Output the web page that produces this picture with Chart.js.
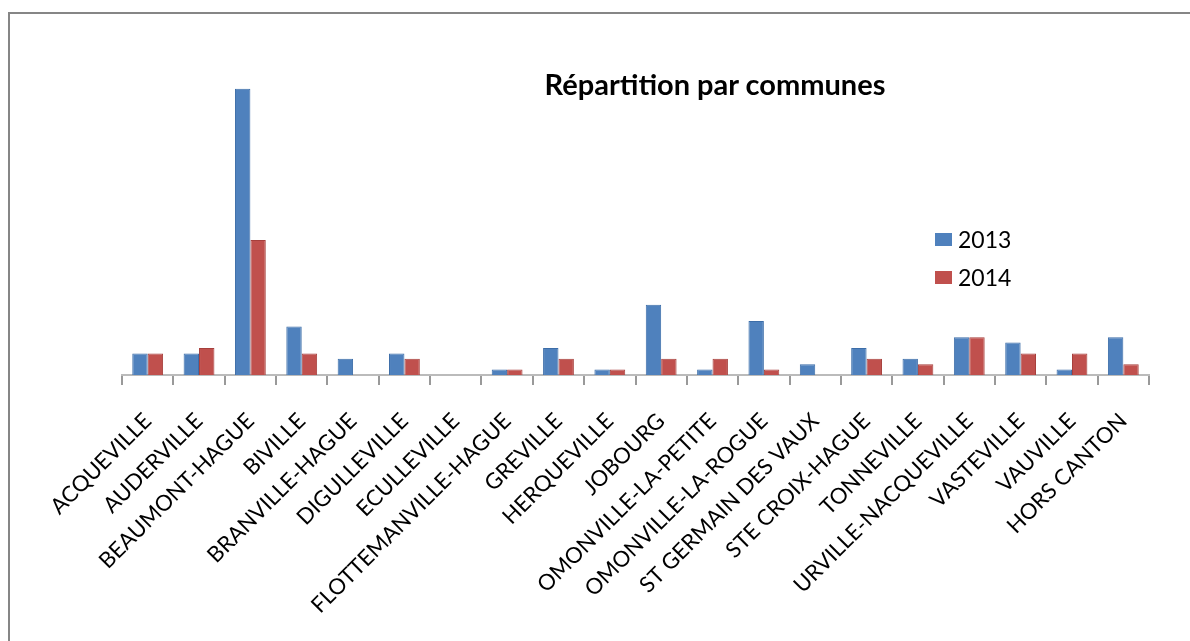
<!DOCTYPE html>
<html>
<head>
<meta charset="utf-8">
<script src="https://cdn.jsdelivr.net/npm/chart.js@4.4.1/dist/chart.umd.min.js"></script>
<style>
  html, body { margin: 0; padding: 0; background: #fff; }
  #frame { position: absolute; left: 8px; top: 12px; width: 1182px; height: 629px;
           border-top: 2px solid #868686; border-left: 2px solid #868686; box-sizing: border-box; }
  #wrap { position: absolute; left: 0; top: 0; width: 1190px; height: 641px; }
  #title { position: absolute; left: 465px; width: 500px; top: 66px; text-align: center;
           font-family: Lato, "Open Sans", sans-serif; font-weight: bold; font-size: 29px; color: #000; white-space: nowrap; }
  .leg { position: absolute; font-family: Lato, "Open Sans", sans-serif; font-size: 23px; color: #000; }
  .sw { display: inline-block; width: 17px; height: 13px; margin-right: 6px; vertical-align: 2px; }
</style>
</head>
<body>
<div id="frame"></div>
<div id="wrap"><canvas id="c" width="1190" height="641"></canvas></div>
<div id="title">Répartition par communes</div>
<div class="leg" id="leg1" style="left:935px; top:225px;"><span class="sw" style="background:#4F81BD"></span>2013</div>
<div class="leg" id="leg2" style="left:935px; top:263px;"><span class="sw" style="background:#C0504D"></span>2014</div>
<script>
const communes = ["ACQUEVILLE","AUDERVILLE","BEAUMONT-HAGUE","BIVILLE","BRANVILLE-HAGUE","DIGULLEVILLE","ECULLEVILLE","FLOTTEMANVILLE-HAGUE","GREVILLE","HERQUEVILLE","JOBOURG","OMONVILLE-LA-PETITE","OMONVILLE-LA-ROGUE","ST GERMAIN DES VAUX","STE CROIX-HAGUE","TONNEVILLE","URVILLE-NACQUEVILLE","VASTEVILLE","VAUVILLE","HORS CANTON"];
const values2013 = [4, 4, 53, 9, 3, 4, 0, 1, 5, 1, 13, 1, 10, 2, 5, 3, 7, 6, 1, 7];
const values2014 = [4, 5, 25, 4, 0, 3, 0, 1, 3, 1, 3, 3, 1, 0, 3, 2, 7, 4, 4, 2];
const seriesLabels = ["2013", "2014"];

new Chart(document.getElementById('c'), {
  type: 'bar',
  data: {
    labels: communes,
    datasets: [
      { label: seriesLabels[0], data: values2013, backgroundColor: '#4F81BD', borderColor: '#3C6DA8', borderWidth: 1, categoryPercentage: 0.6, barPercentage: 1.0 },
      { label: seriesLabels[1], data: values2014, backgroundColor: '#C0504D', borderColor: '#A63F3C', borderWidth: 1, categoryPercentage: 0.6, barPercentage: 1.0 }
    ]
  },
  options: {
    responsive: false,
    animation: false,
    layout: { padding: { left: 122, right: 41, top: 51, bottom: 0 } },
    plugins: { legend: { display: false }, title: { display: false }, tooltip: { enabled: false } },
    scales: {
      x: {
        offset: true,
        grid: { display: true, offset: true, drawOnChartArea: false, drawTicks: true, tickLength: 10, color: '#999', lineWidth: 2 },
        border: { display: true, color: '#BBB', width: 2 },
        ticks: { autoSkip: false, maxRotation: 45, minRotation: 45, padding: 23, color: '#000',
                 font: { family: 'Lato, "Open Sans", sans-serif', size: 22 } },
        afterFit: (scale) => { scale.height = 266; }
      },
      y: { display: false, min: 0, max: 60 }
    }
  }
});
</script>
</body>
</html>
